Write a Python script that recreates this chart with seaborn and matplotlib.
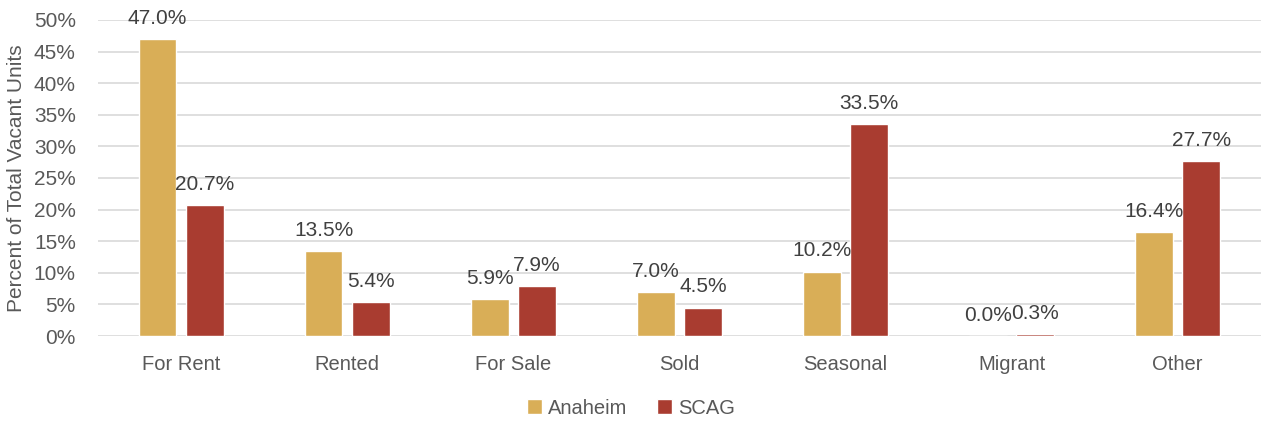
import matplotlib
matplotlib.use("Agg")
import matplotlib.pyplot as plt
import seaborn as sns
import pandas as pd
from matplotlib.ticker import PercentFormatter
from matplotlib.patches import Patch

categories = ["For Rent", "Rented", "For Sale", "Sold", "Seasonal", "Migrant", "Other"]
anaheim = [47.0, 13.5, 5.9, 7.0, 10.2, 0.0, 16.4]
scag = [20.7, 5.4, 7.9, 4.5, 33.5, 0.3, 27.7]
series = ["Anaheim", "SCAG"]
colors = ["#D9AE57", "#A93C30"]

df = pd.DataFrame({
    "Category": categories * 2,
    "Series": ["Anaheim"] * len(categories) + ["SCAG"] * len(categories),
    "Value": anaheim + scag,
})

sns.set_theme(style="white")
plt.rcParams["font.family"] = ["Liberation Sans", "DejaVu Sans"]

fig = plt.figure(figsize=(12.62, 4.21), dpi=100)
ax = fig.add_axes([0.0777, 0.2019, 0.9213, 0.7506])

sns.barplot(data=df, x="Category", y="Value", hue="Series", order=categories,
            hue_order=series, palette=colors, width=0.57, gap=0.2,
            ax=ax, legend=False, saturation=1)

ax.set_ylim(0, 50)
ax.set_xlim(-0.5, 6.5)
ax.set_yticks(range(0, 51, 5))
ax.yaxis.set_major_formatter(PercentFormatter(decimals=0))
ax.grid(axis="y", color="#d9d9d9", linewidth=1.2)
ax.set_axisbelow(True)
for s in ax.spines.values():
    s.set_visible(False)
ax.tick_params(axis="y", length=0, labelsize=15, colors="#595959", pad=16)
ax.tick_params(axis="x", length=0, labelsize=14.5, colors="#595959", pad=14)
ax.set_xlabel("")
ax.set_ylabel("Percent of Total Vacant Units", fontsize=15, color="#595959", labelpad=6)

for container in ax.containers:
    ax.bar_label(container, labels=[f"{v:.1f}%" for v in container.datavalues],
                 padding=8, fontsize=15, color="#404040")

handles = [Patch(facecolor=c, label=s) for s, c in zip(series, colors)]
leg = fig.legend(handles=handles, loc="center", bbox_to_anchor=(0.5, 0.03),
                 ncol=2, frameon=False, fontsize=14.5, handlelength=0.75,
                 handleheight=0.75, handletextpad=0.3, columnspacing=1.5)
for t in leg.get_texts():
    t.set_color("#595959")

fig.savefig("out.png", dpi=100)
